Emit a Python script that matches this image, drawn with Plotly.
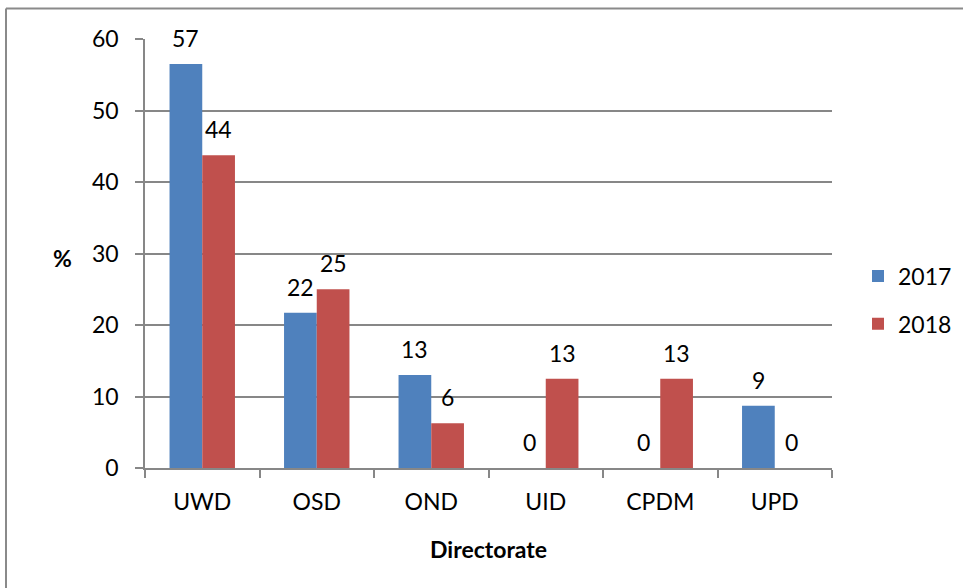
import plotly.graph_objects as go

categories = ["UWD", "OSD", "OND", "UID", "CPDM", "UPD"]
values_2017 = [56.5, 21.7, 13.0, 0.0, 0.0, 8.7]
values_2018 = [43.75, 25.0, 6.25, 12.5, 12.5, 0.0]
series_names = ["2017", "2018"]
colors = ["#4F81BD", "#C0504D"]
y_ticks = [0, 10, 20, 30, 40, 50, 60]

W, H = 963, 588
FONT = "Lato, Carlito, 'Liberation Sans', sans-serif"
FS = 23
GRAY = "#878787"

# plot area in pixels
x0, x1 = 145, 832
y_top, y_bot = 39, 468

fig = go.Figure()
for name, vals, col, grp in zip(series_names, [values_2017, values_2018], colors, ["a", "b"]):
    fig.add_trace(go.Bar(x=categories, y=vals, name=name, marker=dict(color=col, line=dict(width=0)),
                         legendgroup=grp, hoverinfo="skip"))

def half_up(v):
    return str(int(v + 0.5))

cat_w = (x1 - x0) / len(categories)
bar_w = cat_w / 3.5
annotations = []
for vals, sgn in zip([values_2017, values_2018], [-1, 1]):
    for c, v in zip(categories, vals):
        annotations.append(dict(x=c, y=v, xref="x", yref="y", text=half_up(v), showarrow=False,
                                xshift=sgn * bar_w / 2, yshift=26, yanchor="middle",
                                font=dict(family=FONT, size=FS, color="black")))

annotations.append(dict(x=62 / W, y=1 - 258 / H, xref="paper", yref="paper", text="<b>%</b>",
                        showarrow=False, xanchor="center", yanchor="middle",
                        font=dict(family=FONT, size=FS, color="black")))
annotations.append(dict(x=(x0 + x1) / 2 / W, y=1 - 549 / H, xref="paper", yref="paper",
                        text="<b>Directorate</b>", showarrow=False, xanchor="center", yanchor="middle",
                        font=dict(family=FONT, size=FS, color="black")))

shapes = [
    dict(type="line", xref="paper", yref="paper", x0=6 / W, x1=1, y0=1 - 8.5 / H, y1=1 - 8.5 / H,
         line=dict(color="#8a8a8a", width=2)),
    dict(type="line", xref="paper", yref="paper", x0=6 / W, x1=6 / W, y0=0, y1=1 - 8.5 / H,
         line=dict(color="#8a8a8a", width=2)),
]

fig.update_layout(
    width=W, height=H,
    margin=dict(l=0, r=0, t=0, b=0, autoexpand=False),
    paper_bgcolor="white", plot_bgcolor="white",
    barmode="group", bargap=1.5 / 3.5, bargroupgap=0,
    font=dict(family=FONT, size=FS, color="black"),
    xaxis=dict(domain=[x0 / W, x1 / W], type="category", range=[-0.5, 5.5],
               showline=True, linecolor=GRAY, linewidth=1.5, automargin=False,
               ticks="outside", ticklen=8, tickcolor=GRAY, tickwidth=1.5, tickson="boundaries",
               showgrid=False, zeroline=False, ticklabelstandoff=13,
               tickfont=dict(family=FONT, size=FS, color="black")),
    yaxis=dict(domain=[1 - y_bot / H, 1 - y_top / H], range=[0, 60], tickvals=y_ticks,
               showline=True, linecolor=GRAY, linewidth=1.5, automargin=False,
               ticks="outside", ticklen=8, tickcolor=GRAY, tickwidth=1.5,
               showgrid=True, gridcolor=GRAY, gridwidth=1.5, zeroline=False, ticklabelstandoff=12,
               tickfont=dict(family=FONT, size=FS, color="black")),
    legend=dict(x=858 / W, xanchor="left", y=1 - 300 / H, yanchor="middle",
                font=dict(family=FONT, size=FS, color="black"), tracegroupgap=15,
                bgcolor="rgba(0,0,0,0)"),
    annotations=annotations,
    shapes=shapes,
)

fig.write_html("out.html", config={"displayModeBar": False},
               post_script="document.body.style.margin='0px';")
